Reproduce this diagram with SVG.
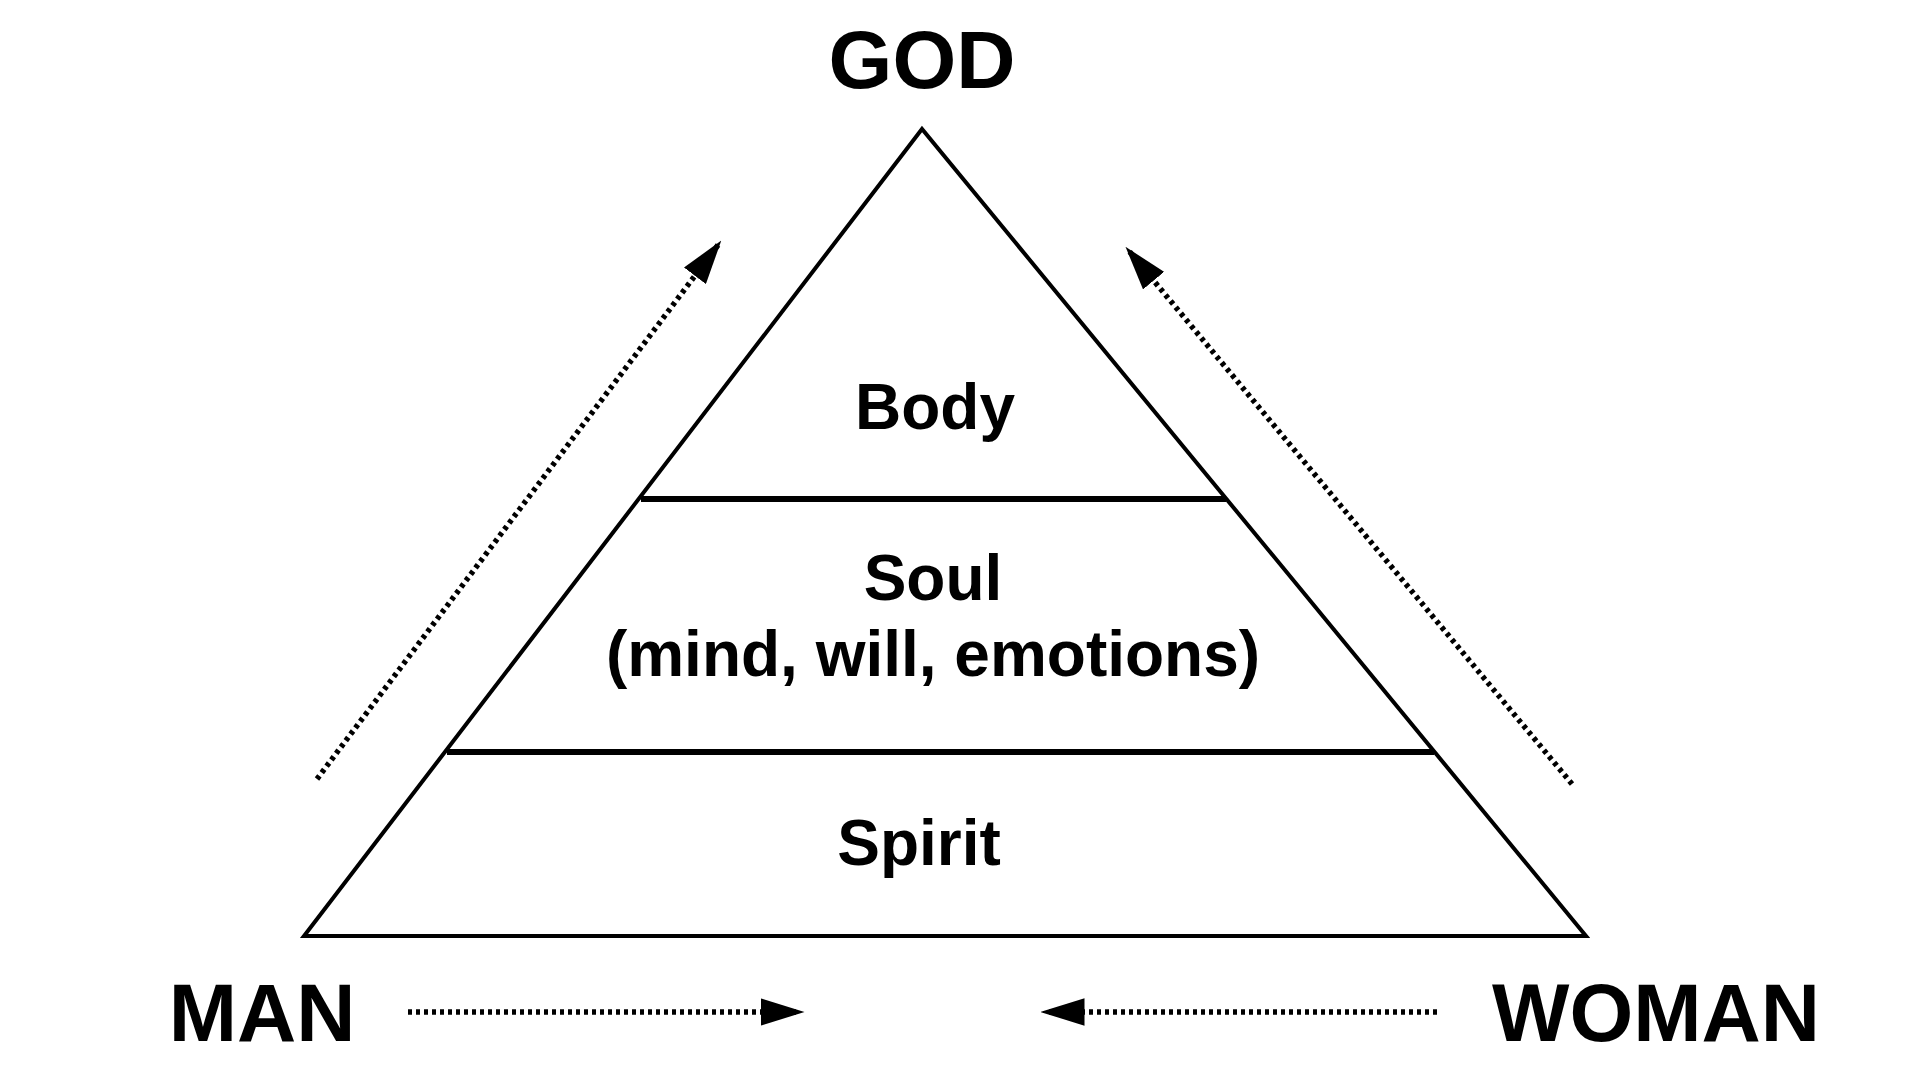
<svg xmlns="http://www.w3.org/2000/svg" width="1920" height="1080" viewBox="0 0 1920 1080">
<style>
text{font-family:"Liberation Sans",Arial,sans-serif;font-weight:bold;fill:#000;text-anchor:middle}
.big{font-size:82px}
.mid{font-size:64px}
.dot{stroke:#000;stroke-width:5.5;stroke-dasharray:4 4;fill:none}
</style>
<defs>
<marker id="ah" markerWidth="8" markerHeight="5" refX="7" refY="2.5" orient="auto" markerUnits="strokeWidth">
<path d="M0,0 L8,2.5 L0,5 z" fill="#000"/>
</marker>
</defs>
<rect width="1920" height="1080" fill="#fff"/>
<g id="pyramid">
<polygon points="922,129 304,936 1586,936" fill="none" stroke="#000" stroke-width="4"/>
<line x1="641" y1="499" x2="1226" y2="499" stroke="#000" stroke-width="6"/>
<line x1="447" y1="752" x2="1434" y2="752" stroke="#000" stroke-width="6"/>
</g>
<g id="god"><text class="big" x="922" y="88">GOD</text></g>
<g id="body"><text class="mid" x="935" y="429">Body</text></g>
<g id="soul"><text class="mid" x="933" y="600">Soul</text><text class="mid" x="933" y="676">(mind, will, emotions)</text></g>
<g id="spirit"><text class="mid" x="919" y="865">Spirit</text></g>
<g id="man"><text class="big" x="262" y="1041">MAN</text></g>
<g id="woman"><text class="big" x="1656" y="1041">WOMAN</text></g>
<g id="connectors">
<line class="dot" x1="317" y1="779" x2="718" y2="245" marker-end="url(#ah)"/>
<line class="dot" x1="1572" y1="784" x2="1129" y2="251" marker-end="url(#ah)"/>
<line class="dot" x1="408" y1="1012" x2="799" y2="1012" marker-end="url(#ah)"/>
<line class="dot" x1="1437" y1="1012" x2="1046" y2="1012" marker-end="url(#ah)"/>
</g>
</svg>
